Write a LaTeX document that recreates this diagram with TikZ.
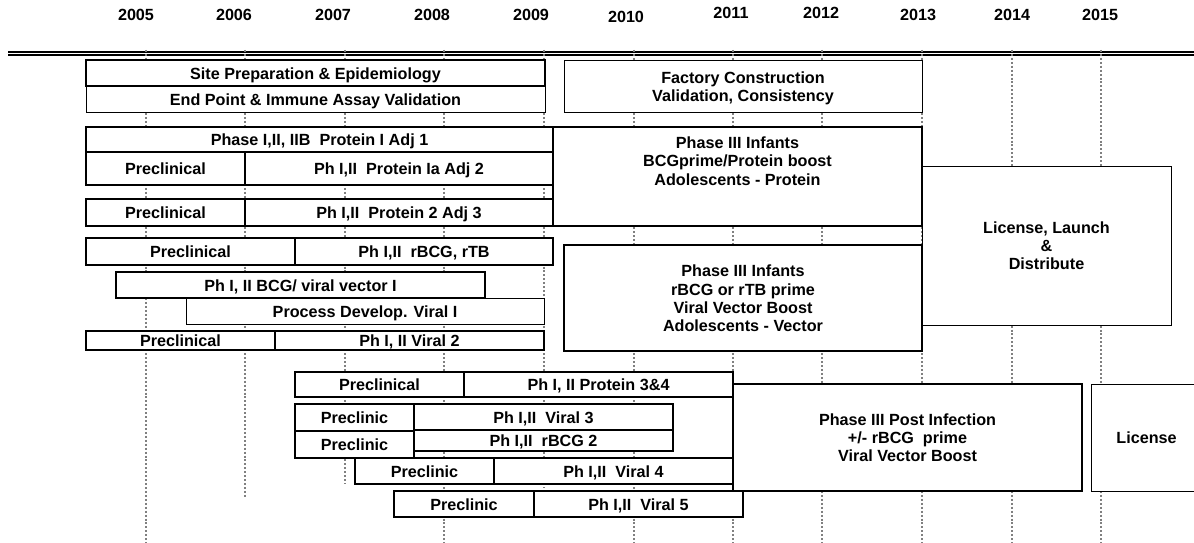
\documentclass[tikz,border=0pt]{standalone}
\usepackage{fontspec}
\setmainfont{Liberation Sans}
\usetikzlibrary{fit}

\begin{document}
\begin{tikzpicture}
[x=0.025cm, y=-0.025cm,
  barFont/.style={font=\bfseries\fontsize{11.5}{13}\selectfont},
  thickbox/.style={draw, line width=1.6pt, fill=white, inner sep=0pt},
  thinbox/.style={thickbox, line width=0.7pt},
  barText/.style={barFont, align=center, inner sep=0pt},
  gridLine/.style={gray, line width=0.9pt, dash pattern=on 1.4pt off 1.4pt},
  yearLabel/.style={barFont}]
\useasboundingbox (0,0) rectangle (1194,543);
%% year labels
\foreach \yr/\x/\y in {2005/136/15, 2006/234/15, 2007/333/15, 2008/432/15,
  2009/531/15, 2010/626/17, 2011/731/13, 2012/821/13, 2013/918/15,
  2014/1012/15, 2015/1100/15}
{
  \node[yearLabel] (y\yr) at (\x,\y) {\yr};
}
%% double rule under the years
\draw[line width=0.8pt] (8,52) -- (1194,52);
\draw[line width=0.8pt] (8,55) -- (1194,55);
%% dotted year grid
\foreach \gx/\gend in {146/543, 245/497, 345/484, 444/543, 544/488, 634/543,
  733/543, 822/543, 922/543, 1012/543, 1101/543}
{
  \draw[gridLine] (\gx,50) -- (\gx,\gend);
}
%% bars
\foreach \nm/\sty/\xa/\ya/\xb/\yb/\txt in {
  endpt/thinbox/86/86/545/112/{End Point \& Immune Assay Validation},
  site/thickbox/86/60/545/86/{Site Preparation \& Epidemiology},
  factory/thinbox/564/60/922/112/{Factory Construction\\Validation, Consistency},
  protA/thickbox/86/127/553/152/{Phase I,II, IIB~ Protein I Adj 1},
  preA/thickbox/86/152/245/185/{Preclinical},
  protB/thickbox/245/152/553/185/{Ph I,II~ Protein Ia Adj 2},
  preB/thickbox/86/199/245/226/{Preclinical},
  protC/thickbox/245/199/553/226/{Ph I,II~ Protein 2 Adj 3},
  launch/thinbox/922/166/1171/325/{License, Launch\\\&\\Distribute},
  phIIIa/thickbox/553/127/922/226/{},
  preC/thickbox/86/238/295/265/{Preclinical},
  rbcg/thickbox/295/238/553/265/{Ph I,II~ rBCG, rTB},
  procdev/thinbox/186/298/544/324/{Process Develop. Viral I},
  bcgvec/thickbox/116/272/485/298/{Ph I, II BCG/ viral vector I},
  preD/thickbox/86/331/275/350/{Preclinical},
  viralB/thickbox/275/331/544/350/{Ph I, II Viral 2},
  phIIIb/thickbox/564/245/922/351/{Phase III Infants\\rBCG or rTB prime\\Viral Vector Boost\\Adolescents - Vector},
  preE/thickbox/295/372/464/397/{Preclinical},
  protD/thickbox/464/372/733/397/{Ph I, II Protein 3\&4},
  phIIIc/thickbox/733/384/1082/491/{Phase III Post Infection\\+/- rBCG~ prime\\Viral Vector Boost},
  license/thinbox/1091/384/1202/491/{License},
  preF/thickbox/295/404/414/431/{Preclinic},
  viralC/thickbox/414/404/673/430/{Ph I,II~ Viral 3},
  preG/thickbox/295/431/414/458/{Preclinic},
  rbcgB/thickbox/414/430/673/451/{Ph I,II~ rBCG 2},
  preH/thickbox/355/458/494/484/{Preclinic},
  viralD/thickbox/494/458/733/484/{Ph I,II~ Viral 4},
  preI/thickbox/394/491/534/517/{Preclinic},
  viralE/thickbox/534/491/743/517/{Ph I,II~ Viral 5}}
{
  \node[\sty, fit={(\xa,\ya) (\xb,\yb)}] (\nm) {};
  \node[barText] (t\nm) at ([yshift=-0.05cm]\nm.center) {\vphantom{Ag}\txt\vphantom{Ag}};
}
%% text of the first phase III bar sits high
\node[barText, anchor=north] (tphIIIa)
  at ([yshift=-0.27cm]phIIIa.north) {Phase III Infants\\BCGprime/Protein boost\\Adolescents - Protein};
\end{tikzpicture}
\end{document}
